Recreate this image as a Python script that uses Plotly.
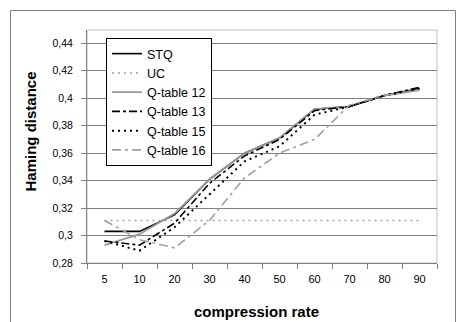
import plotly.graph_objects as go

categories = ["5", "10", "20", "30", "40", "50", "60", "70", "80", "90"]
stq = [0.303, 0.303, 0.315, 0.341, 0.360, 0.371, 0.392, 0.394, 0.402, 0.407]
uc = [0.311, 0.311, 0.311, 0.311, 0.311, 0.311, 0.311, 0.311, 0.311, 0.311]
q12 = [0.293, 0.301, 0.316, 0.341, 0.360, 0.371, 0.392, 0.394, 0.402, 0.406]
q13 = [0.296, 0.293, 0.309, 0.338, 0.358, 0.370, 0.391, 0.394, 0.402, 0.408]
q15 = [0.296, 0.289, 0.306, 0.330, 0.354, 0.365, 0.388, 0.394, 0.402, 0.407]
q16 = [0.311, 0.297, 0.291, 0.311, 0.342, 0.360, 0.370, 0.395, 0.402, 0.406]
y_ticks = [0.28, 0.30, 0.32, 0.34, 0.36, 0.38, 0.40, 0.42, 0.44]

series = [
    ("STQ", stq, dict(color="#000000", width=1.6, dash="solid")),
    ("UC", uc, dict(color="#a0a0a0", width=1.5, dash="2px,4px")),
    ("Q-table 12", q12, dict(color="#9a9a9a", width=1.8, dash="solid")),
    ("Q-table 13", q13, dict(color="#000000", width=1.6, dash="8px,3px,3px,3px")),
    ("Q-table 15", q15, dict(color="#000000", width=2, dash="2px,4px")),
    ("Q-table 16", q16, dict(color="#a0a0a0", width=1.6, dash="9px,4px,3px,4px")),
]

fig = go.Figure()
for name, vals, line in series:
    fig.add_trace(go.Scatter(x=categories, y=vals, mode="lines", name=name, line=line))

W, H = 459, 322
L, R, T, B = 87, 22, 30, 59
pw, ph = W - L - R, H - T - B

def px(x):
    return (x - L) / pw

def py(y):
    return 1 - (y - T) / ph

fig.update_layout(
    width=W, height=H,
    margin=dict(l=L, r=R, t=T, b=B, pad=0),
    paper_bgcolor="white", plot_bgcolor="white",
    separators=", ",
    font=dict(family="Liberation Sans, Arial, sans-serif", size=11, color="#000"),
    showlegend=True,
    legend=dict(
        x=px(106), y=py(38), xanchor="left", yanchor="top",
        bgcolor="white", bordercolor="#000", borderwidth=1,
        font=dict(size=12.5), tracegroupgap=0,
    ),
    xaxis=dict(
        type="category", range=[-0.5, 9.5], tickson="boundaries",
        ticks="outside", ticklen=5, tickcolor="#808080",
        showline=True, linecolor="#808080", linewidth=1,
        showgrid=False, zeroline=False, ticklabelstandoff=6,
        tickfont=dict(size=11),
    ),
    yaxis=dict(
        range=[0.28, 0.4497], tickvals=y_ticks, tickformat=".2~f",
        ticks="outside", ticklen=5, tickcolor="#808080",
        showline=True, linecolor="#808080", linewidth=1,
        showgrid=True, gridcolor="#808080", gridwidth=1,
        zeroline=False, ticklabelstandoff=6,
        tickfont=dict(size=10.5),
    ),
    shapes=[
        dict(type="rect", xref="paper", yref="paper", x0=0, x1=1, y0=0, y1=1,
             line=dict(color="#c0c0c0", width=1), layer="below"),
        dict(type="rect", xref="paper", yref="paper", x0=px(10.5), x1=px(455.5),
             y0=py(340), y1=py(10.5), line=dict(color="#808080", width=1)),
    ],
    annotations=[
        dict(text="<b>Haming distance</b>", xref="paper", yref="paper",
             x=px(30), y=py(131.5), textangle=-90, showarrow=False,
             xanchor="center", yanchor="middle", font=dict(size=15)),
        dict(text="<b>compression rate</b>", xref="paper", yref="paper",
             x=px(256), y=py(311), showarrow=False,
             xanchor="center", yanchor="middle", font=dict(size=15)),
    ],
)

fig.write_html("out.html")
